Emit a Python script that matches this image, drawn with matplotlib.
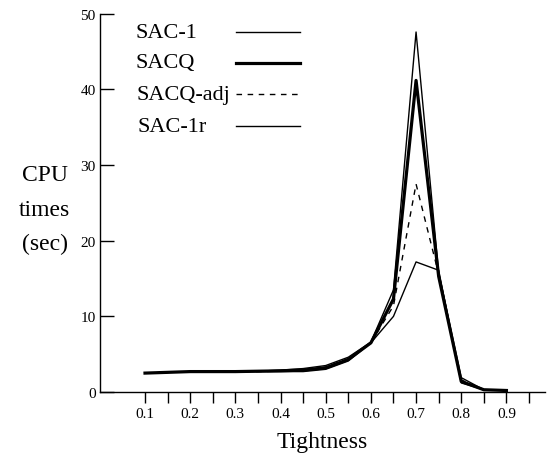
import matplotlib.pyplot as plt
from matplotlib.lines import Line2D

tightness = [0.1, 0.15, 0.2, 0.25, 0.3, 0.35, 0.4, 0.45, 0.5, 0.55, 0.6, 0.65, 0.7, 0.75, 0.8, 0.85, 0.9]
sac1 = [2.5, 2.6, 2.7, 2.7, 2.7, 2.75, 2.9, 3.1, 3.5, 4.6, 6.6, 13.5, 47.6, 15.8, 1.9, 0.3, 0.2]
sacq = [2.5, 2.6, 2.7, 2.7, 2.7, 2.75, 2.8, 2.9, 3.2, 4.3, 6.5, 12.3, 41.2, 15.3, 1.4, 0.3, 0.2]
sacq_adj = [2.5, 2.6, 2.7, 2.7, 2.7, 2.7, 2.75, 2.85, 3.3, 4.4, 6.5, 11.4, 27.5, 15.6, 1.6, 0.3, 0.2]
sac1r = [2.5, 2.6, 2.7, 2.7, 2.7, 2.7, 2.7, 2.7, 3.0, 4.1, 6.5, 10.0, 17.2, 16.1, 1.2, 0.3, 0.2]

labels = ["SAC-1", "SACQ", "SACQ-adj", "SAC-1r"]
styles = [dict(lw=1.0, ls="-"), dict(lw=2.3, ls="-"), dict(lw=1.0, ls=(0, (4, 4))), dict(lw=1.0, ls="-")]

plt.rcParams["font.family"] = "Liberation Serif"

fig = plt.figure(figsize=(5.47, 4.64), dpi=100)
ax = fig.add_axes([0.1825, 0.153, 0.8135, 0.815])

for ys, st in zip([sac1, sacq, sacq_adj, sac1r], styles):
    ax.plot(tightness, ys, color="black", **st)

ax.set_xlim(0, 0.985)
ax.set_ylim(0, 50)
ax.spines["top"].set_visible(False)
ax.spines["right"].set_visible(False)
ax.spines["left"].set_linewidth(1.0)
ax.spines["bottom"].set_linewidth(1.0)

ax.set_xticks([0.1, 0.2, 0.3, 0.4, 0.5, 0.6, 0.7, 0.8, 0.9])
ax.set_xticklabels(["0.1", "0.2", "0.3", "0.4", "0.5", "0.6", "0.7", "0.8", "0.9"])
ax.set_xticks([0.15, 0.25, 0.35, 0.45, 0.55, 0.65, 0.75, 0.85, 0.95], minor=True)
ax.tick_params(axis="x", which="both", direction="out", length=8, width=1.0, labelsize=11, pad=3)
ax.set_yticks([0, 10, 20, 30, 40, 50])
ax.tick_params(axis="y", direction="in", length=10, width=1.0, labelsize=11, pad=3)

ax.set_xlabel("Tightness", fontsize=17, labelpad=8)
fig.text(0.082, 0.547, "CPU\ntimes\n(sec)", fontsize=17, ha="center", va="center", linespacing=1.85)

# legend, text on the left and line sample on the right
leg_y = [0.928, 0.863, 0.795, 0.726]
leg_x = [0.247, 0.247, 0.25, 0.252]
for lab, st, yy, xx in zip(labels, styles, leg_y, leg_x):
    fig.text(xx, yy, lab, fontsize=16, ha="left", va="center")
    fig.add_artist(Line2D([0.432, 0.549], [yy, yy], color="black", transform=fig.transFigure, **st))

fig.savefig("out.png", dpi=100)
